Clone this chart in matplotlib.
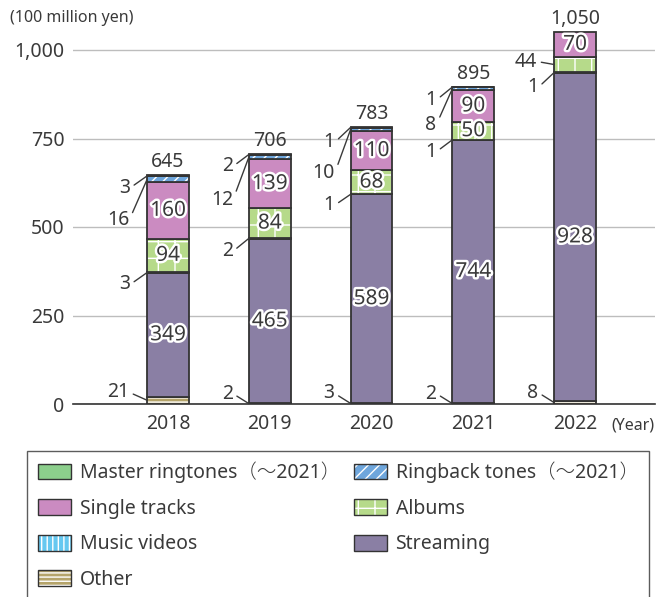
import matplotlib
matplotlib.use("Agg")
import matplotlib.pyplot as plt
import matplotlib.colors as mcolors
import matplotlib.patheffects as pe
from matplotlib.patches import Patch
import numpy as np

plt.rcParams['font.family'] = ['Noto Sans', 'Noto Sans CJK JP', 'DejaVu Sans']
plt.rcParams['font.weight'] = 'light'
plt.rcParams['hatch.linewidth'] = 1.0

# ---------------- data ----------------
years = ['2018', '2019', '2020', '2021', '2022']
other = [21, 2, 3, 2, 8]
streaming = [349, 465, 589, 744, 928]
music_videos = [3, 2, 1, 1, 1]
albums = [94, 84, 68, 50, 44]
single_tracks = [160, 139, 110, 90, 70]
ringback_tones = [16, 12, 10, 8, 0]
master_ringtones = [3, 2, 1, 1, 0]
totals = ['645', '706', '783', '895', '1,050']
y_ticks = [0, 250, 500, 750, 1000]
y_tick_labels = ['0', '250', '500', '750', '1,000']

series_names = ['Other', 'Streaming', 'Music videos', 'Albums', 'Single tracks',
                'Ringback tones（～2021）', 'Master ringtones（～2021）']
series_values = [other, streaming, music_videos, albums, single_tracks,
                 ringback_tones, master_ringtones]

# ---------------- styles ----------------
TXT = '#3a3a3a'
EDGE = '#333333'
styles = {
    'Other': dict(fc='#b5a46a', hatch='----'),
    'Streaming': dict(fc='#8a7fa4', hatch=None),
    'Music videos': dict(fc='#66c8f0', hatch='|||'),
    'Albums': dict(fc='#b6da8a', hatch='+'),
    'Single tracks': dict(fc='#cb8bc1', hatch=None),
    'Ringback tones（～2021）': dict(fc='#6ea6dc', hatch='///'),
    'Master ringtones（～2021）': dict(fc='#8ccf8c', hatch=None),
}

# outside labels: (series index, year index, offset px)
outside = [
    (6, 0, (-17, -12)), (5, 0, (-18, -41)), (2, 0, (-17, -12)), (0, 0, (-18, 8)),
    (6, 1, (-16, -12)), (5, 1, (-16, -43)), (2, 1, (-16, -13)), (0, 1, (-16, 10)),
    (6, 2, (-16, -15)), (5, 2, (-16, -44)), (2, 2, (-16, -11)), (0, 2, (-16, 10)),
    (6, 3, (-16, -13)), (5, 3, (-16, -36)), (2, 3, (-16, -12)), (0, 3, (-16, 10)),
    (3, 4, (-17, 3)), (2, 4, (-16, -15)), (0, 4, (-16, 10)),
]
inside_series = [1, 3, 4]

fig = plt.figure(figsize=(6.57, 5.97), dpi=100)
W, H = 657, 597
ax = fig.add_axes([73 / W, 1 - 404 / H, (655 - 73) / W, (404 - 14.6) / H])

x = np.arange(len(years))
width = 0.41
bottom = np.zeros(len(years))
bottoms = []
white = mcolors.to_rgba('white')
for name, vals in zip(series_names, series_values):
    st = styles[name]
    vals = np.array(vals, dtype=float)
    bars = ax.bar(x, vals, width, bottom=bottom, color=st['fc'], edgecolor=EDGE,
                  linewidth=1.3, hatch=st['hatch'], zorder=3)
    for b, v in zip(bars, vals):
        b._hatch_color = white
        if v == 0:
            b.set_visible(False)
    bottoms.append(bottom.copy())
    bottom = bottom + vals

# total labels
for i, t in enumerate(totals):
    ax.annotate(t, xy=(x[i], bottom[i]), xytext=(0, 3), textcoords='offset pixels',
                ha='center', va='bottom', fontsize=14, color=TXT)

# inside labels
for si in inside_series:
    vals = series_values[si]
    for i, v in enumerate(vals):
        if v >= 45:
            ax.text(x[i], bottoms[si][i] + v / 2, str(v), ha='center', va='center',
                    fontsize=15, color=TXT, zorder=5,
                    path_effects=[pe.withStroke(linewidth=3.5, foreground='white')])

# outside labels with leader lines
for si, yi, off in outside:
    v = series_values[si][yi]
    ty = bottoms[si][yi] + v / 2
    ax.annotate(str(v), xy=(x[yi] - width / 2, ty), xytext=off, textcoords='offset pixels',
                ha='right', va='center', fontsize=14, color=TXT, zorder=6,
                arrowprops=dict(arrowstyle='-', color=TXT, lw=1.0, shrinkA=1, shrinkB=0,
                                relpos=(1, 0.5)))

ax.set_xlim(-0.934, 4.786)
ax.set_ylim(0, 1100)
ax.set_yticks(y_ticks)
ax.set_yticklabels(y_tick_labels)
ax.set_xticks(x)
ax.set_xticklabels(years)
ax.tick_params(axis='both', length=0, labelsize=14, colors=TXT)
ax.tick_params(axis='y', pad=6)
ax.tick_params(axis='x', pad=7)
for s in ['top', 'right', 'left']:
    ax.spines[s].set_visible(False)
ax.spines['bottom'].set_color(EDGE)
ax.spines['bottom'].set_linewidth(1.2)
ax.grid(axis='y', color='#bdbdbd', linewidth=1.0, zorder=0)
ax.set_axisbelow(True)

fig.text(10 / W, 1 - 18 / H, '(100 million yen)', ha='left', va='center', fontsize=11.5, color=TXT)
fig.text(655 / W, 1 - 425 / H, '(Year)', ha='right', va='center', fontsize=11.5, color=TXT)

# legend
order = ['Master ringtones（～2021）', 'Single tracks', 'Music videos', 'Other',
         'Ringback tones（～2021）', 'Albums', 'Streaming']
handles = []
for name in order:
    st = styles[name]
    p = Patch(facecolor=st['fc'], edgecolor=EDGE, linewidth=1.0, hatch=st['hatch'], label=name)
    p._hatch_color = white
    handles.append(p)
leg = fig.legend(handles=handles, ncol=2, loc='upper left',
                 bbox_to_anchor=(27 / W, 1 - 451 / H), bbox_transform=fig.transFigure,
                 fontsize=14, frameon=True, fancybox=False, edgecolor=EDGE,
                 handlelength=1.7, handleheight=0.88, handletextpad=0.46,
                 labelspacing=0.8, columnspacing=0.7, borderpad=0.55, borderaxespad=0)
leg.get_frame().set_linewidth(1.0)
for t in leg.get_texts():
    t.set_color(TXT)

fig.savefig('out.png', dpi=100)
